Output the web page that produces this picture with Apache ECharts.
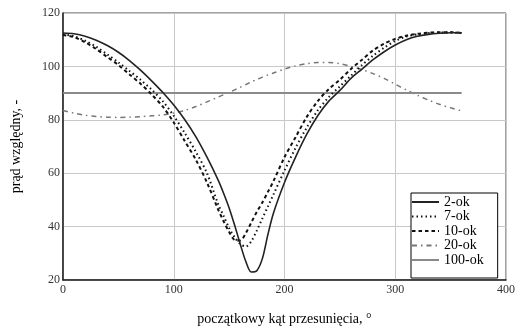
<!DOCTYPE html>
<html>
<head>
<meta charset="utf-8">
<script src="https://cdn.jsdelivr.net/npm/echarts@6/dist/echarts.min.js"></script>
<style>html,body{margin:0;padding:0;background:#fff}#c{width:522px;height:331px}</style>
</head>
<body>
<div id="c"></div>
<script>
var angles = [0,10,20,30,40,50,60,70,80,90,100,110,120,130,140,145,150,155,160,165,170,175,180,185,190,200,210,220,230,240,250,260,270,280,290,300,310,320,330,340,350,360];
var ok2 = [112.5,112.2,111.3,109.8,107.8,105.3,102.2,98.6,94.6,90.3,85.5,80,73.6,66,57.5,52.5,47,40.5,33.5,27,23,23.5,28,37,45,56.5,66,74.5,81.5,87,91,95.5,99,102.5,105.5,108,110,111.3,112,112.4,112.6,112.6];
var ok7 = [112,111.3,109.6,107.3,104.5,101.5,98.3,95,91.3,87,81.5,75,68,60,48.5,44,39.5,36,33.5,32.5,34.5,38.5,43,47.5,52,61,69.5,77,83.5,88.5,92.5,96.5,100.5,104,107,109.5,111.2,112,112.5,112.7,112.7,112.5];
var ok10 = [111.8,111,109,106.5,103.5,100.5,97,93.5,89.5,85,79,72,65,56.5,46.5,42,38,35,34.8,37.5,41.5,45.5,49,53,57,66,73.5,81,87,91.5,95,99,102.5,106,108.5,110.3,111.5,112.2,112.6,112.8,112.8,112.5];
var ok20 = [83.5,82.5,81.7,81.2,81,80.9,81,81.2,81.5,81.8,82.5,83.5,85,86.7,88.5,89.4,90.3,91.2,92.2,93.2,94.2,95.1,96,96.8,97.5,99,100.2,101,101.5,101.5,101,100,98.8,97.3,95.5,93.3,91.2,89.2,87.4,85.8,84.5,83.3];
var ok100Angles = [0,360];
var ok100 = [90,90];
var seriesNames = ['2-ok','7-ok','10-ok','20-ok','100-ok'];
var xTicks = [0,100,200,300,400];
var yTicks = [20,40,60,80,100,120];

function zip(xs, ys){ return xs.map(function(x,i){ return [x, ys[i]]; }); }

var serif = 'Liberation Serif';
var chart = echarts.init(document.getElementById('c'), null, {renderer:'canvas'});
chart.setOption({
  animation:false,
  grid:{left:63,right:16,top:13,bottom:45,show:true,borderColor:'#444',borderWidth:1,backgroundColor:'transparent'},
  legend:{
    orient:'vertical', left:411, top:193,
    itemWidth:27, itemHeight:13, itemGap:0.5,
    padding:[2,14,11,0],
    borderColor:'#000', borderWidth:1, backgroundColor:'#fff',
    itemStyle:{opacity:0},
    textStyle:{fontFamily:serif,fontSize:14,color:'#000'},
    data:seriesNames
  },
  xAxis:{
    type:'value', min:xTicks[0], max:xTicks[xTicks.length-1], interval:100,
    name:'początkowy kąt przesunięcia, °', nameLocation:'middle', nameGap:32,
    nameTextStyle:{fontFamily:serif,fontSize:14,color:'#000'},
    axisLine:{show:true,lineStyle:{color:'#222',width:1.5}},
    axisTick:{show:false},
    axisLabel:{fontFamily:serif,fontSize:12,color:'#333',margin:4},
    splitLine:{show:true,lineStyle:{color:'#c8c8c8',width:1}}
  },
  yAxis:{
    type:'value', min:yTicks[0], max:yTicks[yTicks.length-1], interval:20,
    name:'prąd względny, -', nameLocation:'middle', nameGap:40, nameRotate:90,
    nameTextStyle:{fontFamily:serif,fontSize:14,color:'#000'},
    axisLine:{show:true,lineStyle:{color:'#222',width:1.5}},
    axisTick:{show:false},
    axisLabel:{fontFamily:serif,fontSize:12,color:'#333',margin:3},
    splitLine:{show:true,lineStyle:{color:'#c8c8c8',width:1}}
  },
  series:[
    {name:seriesNames[0],type:'line',data:zip(angles,ok2),smooth:0.3,symbol:'none',lineStyle:{color:'#222',width:1.6,type:'solid'},itemStyle:{color:'#222'},z:5},
    {name:seriesNames[1],type:'line',data:zip(angles,ok7),smooth:0.3,symbol:'none',lineStyle:{color:'#111',width:2,type:[1.5,3]},itemStyle:{color:'#111'},z:4},
    {name:seriesNames[2],type:'line',data:zip(angles,ok10),smooth:0.3,symbol:'none',lineStyle:{color:'#111',width:2,type:[3.5,3]},itemStyle:{color:'#111'},z:4},
    {name:seriesNames[3],type:'line',data:zip(angles,ok20),smooth:0.3,symbol:'none',lineStyle:{color:'#777',width:1.5,type:[5,4,1.5,4]},itemStyle:{color:'#777'},z:3},
    {name:seriesNames[4],type:'line',data:zip(ok100Angles,ok100),symbol:'none',lineStyle:{color:'#8a8a8a',width:2,type:'solid'},itemStyle:{color:'#8a8a8a'},z:3}
  ]
});
</script>
</body>
</html>
